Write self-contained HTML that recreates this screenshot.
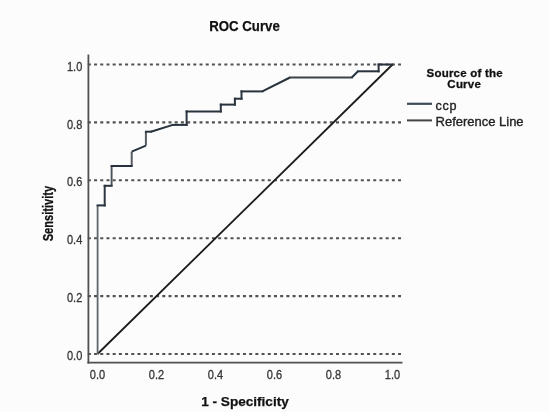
<!DOCTYPE html>
<html><head><meta charset="utf-8"><style>
html,body{margin:0;padding:0;background:#fcfcfc;overflow:hidden;}
svg{display:block;will-change:transform;font-family:"Liberation Sans",sans-serif;}
</style></head><body>
<svg width="550" height="412" viewBox="0 0 550 412">
<rect x="-10" y="-10" width="570" height="432" fill="#fcfcfc"/>
<g>
<text x="244.5" y="31.3" text-anchor="middle" font-weight="bold" font-size="14.6" fill="#111" stroke="#111" stroke-width="0.25" textLength="70.5" lengthAdjust="spacingAndGlyphs">ROC Curve</text>
<g stroke="#525252" stroke-width="2.1" stroke-dasharray="3 3.204" fill="none">
<line x1="87.85" y1="354.0" x2="401" y2="354.0" />
<line x1="87.85" y1="296.1" x2="401" y2="296.1" />
<line x1="87.85" y1="238.2" x2="401" y2="238.2" />
<line x1="87.85" y1="180.3" x2="401" y2="180.3" />
<line x1="87.85" y1="122.4" x2="401" y2="122.4" />
<line x1="87.85" y1="64.5" x2="401" y2="64.5" />
</g>
<g stroke="#505050" stroke-width="1.8" fill="none">
<line x1="88.4" y1="54.5" x2="88.4" y2="363.5"/>
<line x1="87.4" y1="362.7" x2="402.5" y2="362.7"/>
</g>
<line x1="97.5" y1="354" x2="392.5" y2="64.5" stroke="#1a1a1a" stroke-width="1.8"/>
<g fill="none">
<line x1="97.6" y1="354.0" x2="97.6" y2="205.4" stroke="#63676b" stroke-width="1.8"/>
<line x1="111.6" y1="185.8" x2="111.6" y2="166.0" stroke="#4c545b" stroke-width="1.9"/>
<line x1="131.7" y1="166.0" x2="131.7" y2="151.7" stroke="#555b60" stroke-width="2.0"/>
<line x1="145.9" y1="145.6" x2="145.9" y2="131.7" stroke="#555b60" stroke-width="2.0"/>
<line x1="97.6" y1="205.4" x2="104.7" y2="205.4" stroke="#27323c" stroke-width="2.0" stroke-linecap="square"/>
<line x1="104.7" y1="205.4" x2="104.7" y2="185.8" stroke="#2c3640" stroke-width="2.0" stroke-linecap="square"/>
<line x1="104.7" y1="185.8" x2="111.6" y2="185.8" stroke="#27323c" stroke-width="2.0" stroke-linecap="square"/>
<line x1="111.6" y1="166.0" x2="131.7" y2="166.0" stroke="#27323c" stroke-width="2.0" stroke-linecap="square"/>
<line x1="131.7" y1="151.7" x2="145.9" y2="145.6" stroke="#27323c" stroke-width="2.0" stroke-linecap="butt"/>
<line x1="145.9" y1="131.7" x2="150.9" y2="131.7" stroke="#27323c" stroke-width="2.0" stroke-linecap="square"/>
<line x1="150.9" y1="131.7" x2="172.8" y2="124.9" stroke="#27323c" stroke-width="2.0" stroke-linecap="butt"/>
<line x1="172.8" y1="124.9" x2="186.6" y2="124.9" stroke="#27323c" stroke-width="2.0" stroke-linecap="square"/>
<line x1="186.6" y1="124.9" x2="186.6" y2="111.4" stroke="#2c3640" stroke-width="2.0" stroke-linecap="square"/>
<line x1="186.6" y1="111.4" x2="220.8" y2="111.4" stroke="#27323c" stroke-width="2.0" stroke-linecap="square"/>
<line x1="220.8" y1="111.4" x2="220.8" y2="104.6" stroke="#2c3640" stroke-width="2.0" stroke-linecap="square"/>
<line x1="220.8" y1="104.6" x2="234.9" y2="104.6" stroke="#27323c" stroke-width="2.0" stroke-linecap="square"/>
<line x1="234.9" y1="104.6" x2="234.9" y2="98.7" stroke="#2c3640" stroke-width="2.0" stroke-linecap="square"/>
<line x1="234.9" y1="98.7" x2="241.5" y2="98.7" stroke="#27323c" stroke-width="2.0" stroke-linecap="square"/>
<line x1="241.5" y1="98.7" x2="241.5" y2="91.4" stroke="#2c3640" stroke-width="2.0" stroke-linecap="square"/>
<line x1="241.5" y1="91.4" x2="262.3" y2="91.4" stroke="#27323c" stroke-width="2.0" stroke-linecap="square"/>
<line x1="262.3" y1="91.4" x2="290.0" y2="77.5" stroke="#27323c" stroke-width="2.0" stroke-linecap="butt"/>
<line x1="290.0" y1="77.5" x2="351.8" y2="77.5" stroke="#3d4247" stroke-width="1.9" stroke-linecap="square"/>
<line x1="351.8" y1="77.5" x2="358.0" y2="71.3" stroke="#27323c" stroke-width="2.0" stroke-linecap="butt"/>
<line x1="358.0" y1="71.3" x2="378.6" y2="71.3" stroke="#27323c" stroke-width="2.0" stroke-linecap="square"/>
<line x1="378.6" y1="71.3" x2="378.6" y2="64.5" stroke="#2c3640" stroke-width="2.0" stroke-linecap="square"/>
<line x1="378.6" y1="64.5" x2="392.5" y2="64.5" stroke="#27323c" stroke-width="2.0" stroke-linecap="square"/>
</g>
<g font-size="12.1" fill="#363636" stroke="#363636" stroke-width="0.3">
<text x="82.3" y="360.1" text-anchor="end" textLength="15.3" lengthAdjust="spacingAndGlyphs">0.0</text>
<text x="82.3" y="302.2" text-anchor="end" textLength="15.3" lengthAdjust="spacingAndGlyphs">0.2</text>
<text x="82.3" y="244.3" text-anchor="end" textLength="15.3" lengthAdjust="spacingAndGlyphs">0.4</text>
<text x="82.3" y="186.4" text-anchor="end" textLength="15.3" lengthAdjust="spacingAndGlyphs">0.6</text>
<text x="82.3" y="128.5" text-anchor="end" textLength="15.3" lengthAdjust="spacingAndGlyphs">0.8</text>
<text x="82.3" y="70.6" text-anchor="end" textLength="15.3" lengthAdjust="spacingAndGlyphs">1.0</text>
<text x="97.5" y="379.1" text-anchor="middle" textLength="15.3" lengthAdjust="spacingAndGlyphs">0.0</text>
<text x="156.5" y="379.1" text-anchor="middle" textLength="15.3" lengthAdjust="spacingAndGlyphs">0.2</text>
<text x="215.5" y="379.1" text-anchor="middle" textLength="15.3" lengthAdjust="spacingAndGlyphs">0.4</text>
<text x="274.5" y="379.1" text-anchor="middle" textLength="15.3" lengthAdjust="spacingAndGlyphs">0.6</text>
<text x="333.5" y="379.1" text-anchor="middle" textLength="15.3" lengthAdjust="spacingAndGlyphs">0.8</text>
<text x="392.5" y="379.1" text-anchor="middle" textLength="15.3" lengthAdjust="spacingAndGlyphs">1.0</text>
</g>
<text x="245" y="405.7" text-anchor="middle" font-weight="bold" font-size="13.6" fill="#111" stroke="#111" stroke-width="0.25" textLength="87.5" lengthAdjust="spacingAndGlyphs">1 - Specificity</text>
<text transform="translate(53,213.6) rotate(-90)" text-anchor="middle" font-weight="bold" font-size="14" fill="#111" stroke="#111" stroke-width="0.3" textLength="55.5" lengthAdjust="spacingAndGlyphs">Sensitivity</text>
<g font-weight="bold" font-size="11.5" fill="#111" stroke="#111" stroke-width="0.3" text-anchor="middle">
<text x="464.6" y="77" textLength="76" lengthAdjust="spacing">Source of the</text>
<text x="464.1" y="87.9" textLength="33.5" lengthAdjust="spacing">Curve</text>
</g>
<line x1="407" y1="103.8" x2="432" y2="103.8" stroke="#3d4c5a" stroke-width="2.2"/>
<line x1="407" y1="120.4" x2="432" y2="120.4" stroke="#444" stroke-width="2"/>
<g font-size="13" fill="#222" stroke="#222" stroke-width="0.35">
<text x="435.6" y="109.8" font-size="12.6" textLength="21" lengthAdjust="spacing">ccp</text>
<text x="435.6" y="125.5" textLength="88" lengthAdjust="spacing">Reference Line</text>
</g>
</g>
</svg>
</body></html>
